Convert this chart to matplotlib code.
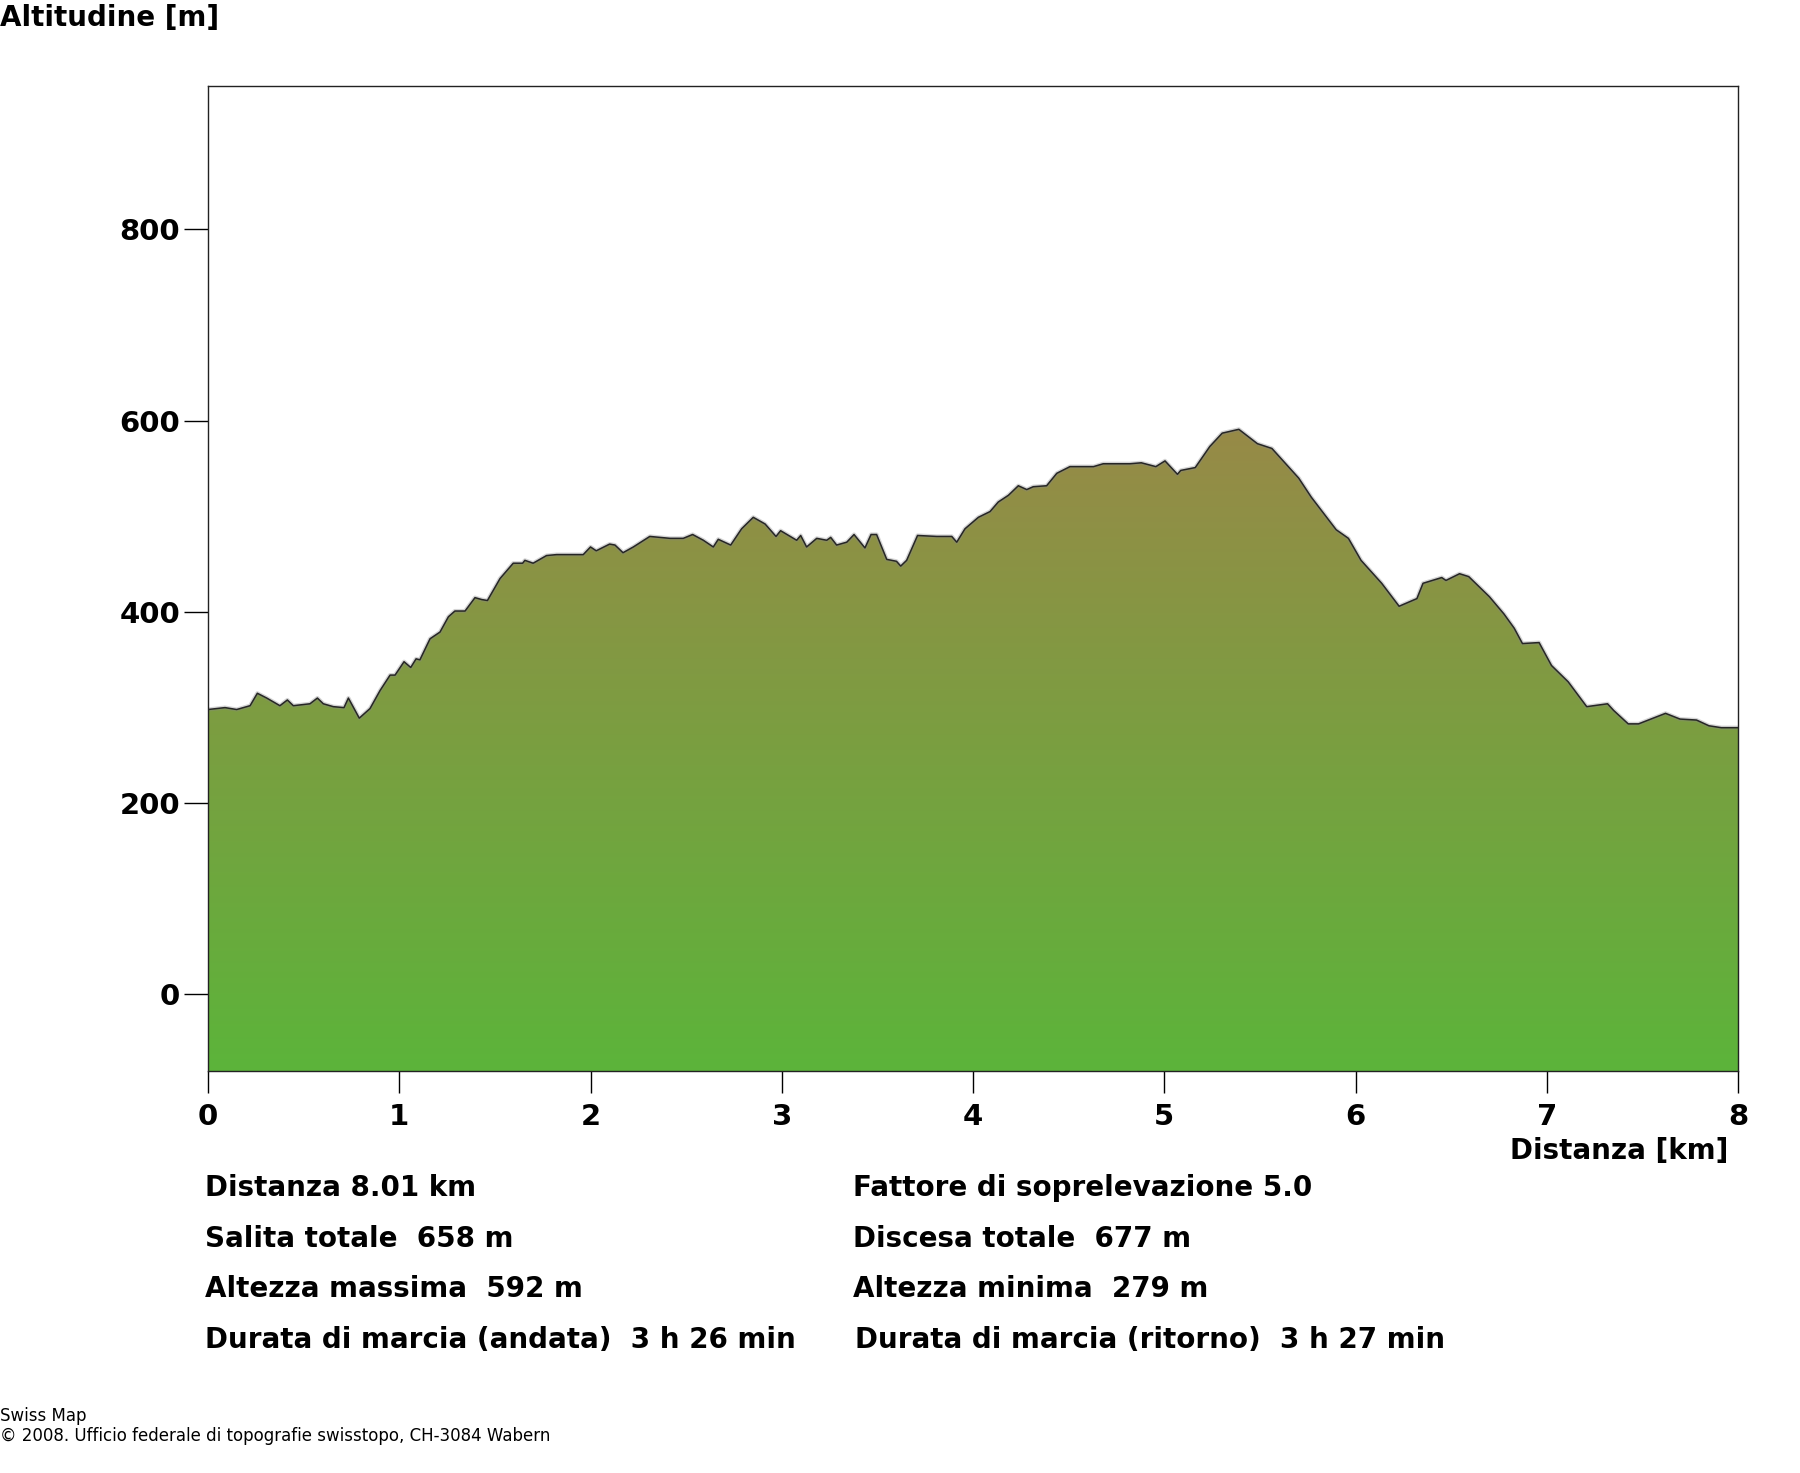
import numpy as np
import matplotlib.pyplot as plt
from matplotlib.colors import LinearSegmentedColormap
from matplotlib.patches import Polygon

# elevation profile
distance_km = [
    0.0, 0.089, 0.15, 0.22, 0.258, 0.307, 0.376, 0.415, 0.446, 0.533,
    0.572, 0.603, 0.655, 0.711, 0.734, 0.791, 0.847, 0.90, 0.952, 0.978,
    1.025, 1.06, 1.088, 1.108, 1.161, 1.213, 1.257, 1.291, 1.344, 1.396,
    1.431, 1.461, 1.527, 1.596, 1.645, 1.657, 1.70, 1.77, 1.823, 1.962,
    2.00, 2.03, 2.10, 2.128, 2.17, 2.224, 2.31, 2.416, 2.485, 2.534,
    2.59, 2.642, 2.668, 2.733, 2.79, 2.851, 2.913, 2.97, 2.994, 3.078,
    3.099, 3.13, 3.183, 3.235, 3.256, 3.287, 3.34, 3.378, 3.435, 3.467,
    3.496, 3.549, 3.60, 3.622, 3.653, 3.71, 3.81, 3.889, 3.915, 3.958,
    4.028, 4.089, 4.132, 4.185, 4.237, 4.281, 4.315, 4.385, 4.438, 4.507,
    4.63, 4.681, 4.82, 4.88, 4.956, 5.004, 5.069, 5.086, 5.162, 5.238,
    5.303, 5.39, 5.455, 5.487, 5.563, 5.703, 5.769, 5.899, 5.963, 6.029,
    6.137, 6.228, 6.321, 6.353, 6.451, 6.473, 6.544, 6.592, 6.70, 6.776,
    6.83, 6.873, 6.96, 7.025, 7.112, 7.209, 7.318, 7.35, 7.426, 7.48,
    7.621, 7.697, 7.783, 7.848, 7.913, 8.0,
]
altitude_m = [
    298, 300, 298, 302, 315, 310, 302, 308, 302, 304,
    310, 304, 301, 300, 310, 289, 299, 318, 334, 334,
    348, 342, 351, 350, 372, 379, 395, 401, 401, 415,
    413, 412, 435, 451, 451, 454, 451, 459, 460, 460,
    468, 464, 471, 470, 462, 468, 479, 477, 477, 481,
    475, 468, 476, 470, 487, 499, 492, 479, 485, 475,
    480, 468, 477, 475, 478, 470, 473, 481, 467, 481,
    481, 455, 453, 448, 454, 480, 479, 479, 473, 487,
    499, 505, 515, 522, 532, 528, 531, 532, 545, 552,
    552, 555, 555, 556, 552, 558, 544, 548, 551, 573,
    587, 591, 581, 576, 571, 540, 520, 486, 477, 454,
    430, 406, 414, 430, 436, 433, 440, 437, 416, 398,
    383, 367, 368, 344, 327, 301, 304, 297, 283, 283,
    294, 288, 287, 281, 279, 279,
]

x_ticks = [0, 1, 2, 3, 4, 5, 6, 7, 8]
y_ticks = [0, 200, 400, 600, 800]

stats_left = [
    "Distanza 8.01 km",
    "Salita totale  658 m",
    "Altezza massima  592 m",
    "Durata di marcia (andata)  3 h 26 min",
]
stats_right = [
    "Fattore di soprelevazione 5.0",
    "Discesa totale  677 m",
    "Altezza minima  279 m",
    "Durata di marcia (ritorno)  3 h 27 min",
]

W, H = 1800, 1473
fig = plt.figure(figsize=(W / 100, H / 100), dpi=100)
ax = fig.add_axes([208 / W, 1 - 1071 / H, 1530 / W, 985 / H])

y_min, y_max = -80, 950
ax.set_xlim(0, 8)
ax.set_ylim(y_min, y_max)

# gradient fill clipped to the profile
terrain = LinearSegmentedColormap.from_list("terrain", ["#5cb43a", "#978a47"])
grad = np.linspace(0, 1, 256).reshape(-1, 1)
im = ax.imshow(grad, extent=[0, 8, y_min, max(altitude_m)], origin="lower",
               aspect="auto", cmap=terrain, zorder=1)
verts = [(distance_km[0], y_min)] + list(zip(distance_km, altitude_m)) + [(distance_km[-1], y_min)]
shape = Polygon(verts, closed=True, facecolor="none", edgecolor="none")
ax.add_patch(shape)
im.set_clip_path(shape)

ax.plot(distance_km, altitude_m, color="#888888", lw=3, alpha=0.35, zorder=2)
ax.plot(distance_km, altitude_m, color="#262626", lw=1.1, zorder=3)

ax.set_xticks(x_ticks)
ax.set_yticks(y_ticks)
ax.set_xticklabels([str(t) for t in x_ticks], fontsize=21, fontweight="bold")
ax.set_yticklabels([str(t) for t in y_ticks], fontsize=21, fontweight="bold")
ax.tick_params(axis="x", length=16, width=1, pad=7)
ax.tick_params(axis="y", length=17, width=1, pad=3)
for s in ax.spines.values():
    s.set_linewidth(1)
    s.set_color("#222222")

fig.text(0, 1 - 18 / H, "Altitudine [m]", ha="left", va="center",
         fontsize=20, fontweight="bold")
fig.text(1728 / W, 1 - 1151 / H, "Distanza [km]", ha="right", va="center",
         fontsize=20, fontweight="bold")

rows_y = [1188, 1239, 1289, 1340]
for i, (a, b) in enumerate(zip(stats_left, stats_right)):
    fig.text(205 / W, 1 - rows_y[i] / H, a, ha="left", va="center",
             fontsize=20, fontweight="bold")
    fig.text((853 if i < 3 else 855) / W, 1 - rows_y[i] / H, b, ha="left",
             va="center", fontsize=20, fontweight="bold")

fig.text(0, 1 - 1416 / H, "Swiss Map", ha="left", va="center", fontsize=12)
fig.text(0, 1 - 1436 / H, "\u00a9 2008. Ufficio federale di topografie swisstopo, CH-3084 Wabern",
         ha="left", va="center", fontsize=12)

fig.savefig("out.png", dpi=100)
